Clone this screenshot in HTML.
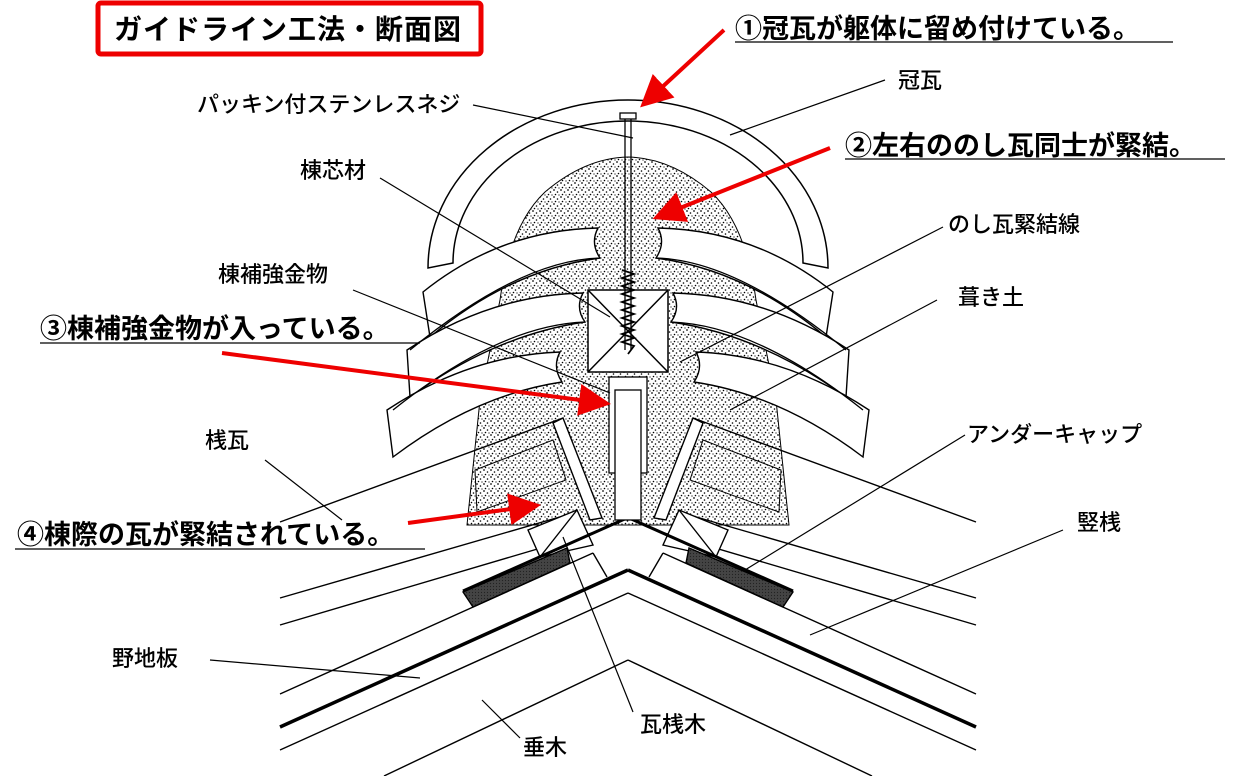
<!DOCTYPE html>
<html><head><meta charset="utf-8"><style>
html,body{margin:0;padding:0;background:#fff;}
svg{display:block;}
text{font-family:"Liberation Sans","Noto Sans CJK JP",sans-serif;fill:#000;}
.b{font-weight:bold;font-size:27px;}
.l{font-size:22px;font-weight:500;}
</style></head><body>
<svg width="1244" height="776" viewBox="0 0 1244 776" xmlns="http://www.w3.org/2000/svg">
<defs>
<pattern id="st" width="7" height="7" patternUnits="userSpaceOnUse">
<rect width="7" height="7" fill="#fff"/>
<circle cx="1" cy="1" r="0.85" fill="#000"/><circle cx="4.5" cy="3" r="0.8" fill="#000"/>
<circle cx="2.5" cy="5.5" r="0.8" fill="#000"/><circle cx="6" cy="6" r="0.6" fill="#000"/>
</pattern>
<pattern id="hx" width="3" height="3" patternUnits="userSpaceOnUse">
<rect width="3" height="3" fill="#444"/><circle cx="1.5" cy="1.5" r="0.6" fill="#222"/>
</pattern>
<marker id="ar" markerWidth="8" markerHeight="8" refX="6" refY="4" orient="auto" markerUnits="strokeWidth">
<path d="M0,0 L8,4 L0,8 z" fill="#e00"/></marker>
<g id="half" fill="#fff" stroke="#000" stroke-width="1.4">
<line x1="628" y1="660" x2="384" y2="776"/>
<line x1="628" y1="593" x2="280" y2="750"/>
<line x1="628" y1="570" x2="280" y2="727" stroke-width="3.5"/>
<line x1="593" y1="553" x2="280" y2="694"/>
<path d="M593,553 L607,577" fill="none"/>
<line x1="280" y1="625" x2="595" y2="532"/>
<line x1="280" y1="598" x2="577" y2="512"/>
<line x1="280" y1="522" x2="563" y2="418"/>
<path d="M528,530 L577,510 L593,545 L540,557 Z"/>
<line x1="540" y1="557" x2="577" y2="510"/>
<path d="M463,592 L567,548 L570,563 L473,607 Z" fill="url(#hx)"/>
<line x1="627" y1="518" x2="463" y2="591" stroke-width="3"/>
</g>
</defs>

<path d="M467,525 L480,400 L500,300 Q510,225 545,192 Q585,158 628,157 Q671,158 711,192 Q746,225 756,300 L776,400 L789,525 Z" fill="url(#st)" stroke="#000" stroke-width="1"/>

<use href="#half"/>
<use href="#half" transform="translate(1256,0) scale(-1,1)"/>

<g fill="#fff" stroke="#000" stroke-width="1.4">
<path d="M563,418 L602,518 L590,520 L553,423 Z"/>
<path d="M475,470 L553,440 L566,480 L477,512 Z" fill="url(#st)" stroke-width="1"/>
<path d="M693,418 L654,518 L666,520 L703,423 Z"/>
<path d="M781,470 L703,440 L690,480 L779,512 Z" fill="url(#st)" stroke-width="1"/>
</g>

<g fill="#fff" stroke="#000" stroke-width="1.3">
<rect x="609" y="377" width="38" height="96"/>
<rect x="615" y="390" width="26" height="130"/>
</g>

<g fill="#fff" stroke="#000" stroke-width="1.4">
<path d="M598,228 Q500,230 423,292 L430,337 Q510,270 600,258 Q590,243 598,228 Z"/>
<path d="M583,293 Q490,295 407,350 L410,397 Q495,335 585,322 Q575,308 583,293 Z"/>
<path d="M560,352 Q470,355 387,410 L393,457 Q475,395 562,382 Q552,367 560,352 Z"/>
<path d="M658,228 Q756,230 833,292 L826,337 Q746,270 656,258 Q666,243 658,228 Z"/>
<path d="M673,293 Q766,295 849,350 L846,397 Q761,335 671,322 Q681,308 673,293 Z"/>
<path d="M696,352 Q786,355 869,410 L863,457 Q781,395 694,382 Q704,367 696,352 Z"/>
</g>
<g fill="none" stroke="#000" stroke-width="1.3">
<path d="M600,258 Q520,260 410,350"/>
<path d="M656,258 Q736,260 846,350"/>
<path d="M585,322 Q500,325 393,410"/>
<path d="M671,322 Q756,325 863,410"/>
</g>

<path d="M428,268 A200,168 0 0 1 828,268 L803,263 A175,142 0 0 0 453,263 Z" fill="#fff" stroke="#000" stroke-width="1.5"/>

<g fill="#fff" stroke="#000" stroke-width="1.5">
<rect x="588" y="290" width="80" height="82"/>
<line x1="588" y1="290" x2="668" y2="372"/><line x1="668" y1="290" x2="588" y2="372"/>
</g>
<g stroke="#000" stroke-width="1.3" fill="#fff">
<rect x="620" y="113" width="16" height="6"/>
<line x1="625" y1="119" x2="625" y2="350"/><line x1="631" y1="119" x2="631" y2="350"/>
<path d="M622,270 l12,4 l-12,4 l12,4 l-12,4 l12,4 l-12,4 l12,4 l-12,4 l12,4 l-12,4 l12,4 l-12,4 l12,4 l-12,4 l12,4 l-12,4 l12,4 l-12,4 l12,4 l-6,8" fill="none" stroke-width="1.8"/>
</g>

<g stroke="#000" stroke-width="1.2" fill="none">
<line x1="885" y1="80" x2="730" y2="135"/>
<line x1="473" y1="105" x2="633" y2="138"/>
<line x1="380" y1="178" x2="610" y2="317"/>
<line x1="943" y1="227" x2="680" y2="362"/>
<line x1="353" y1="290" x2="610" y2="393"/>
<line x1="937" y1="300" x2="730" y2="410"/>
<line x1="265" y1="460" x2="342" y2="520"/>
<line x1="965" y1="435" x2="745" y2="570"/>
<line x1="1063" y1="530" x2="810" y2="635"/>
<line x1="210" y1="660" x2="420" y2="678"/>
<line x1="520" y1="738" x2="482" y2="700"/>
<line x1="633" y1="712" x2="563" y2="537"/>
</g>

<g stroke="#e00" stroke-width="4" fill="none">
<line x1="724" y1="30" x2="646" y2="102" marker-end="url(#ar)"/>
<line x1="830" y1="148" x2="660" y2="216" marker-end="url(#ar)"/>
<line x1="222" y1="353" x2="603" y2="403" marker-end="url(#ar)"/>
<line x1="408" y1="523" x2="533" y2="506" marker-end="url(#ar)"/>
</g>

<rect x="98" y="3" width="383" height="51" rx="3" fill="none" stroke="#e00" stroke-width="5"/>
<text class="b" x="114" y="39" style="font-size:28px;letter-spacing:1px">ガイドライン工法・断面図</text>

<text class="b" x="735" y="38">①冠瓦が躯体に留め付けている。</text>
<line x1="735" y1="42" x2="1173" y2="42" stroke="#000" stroke-width="1.3"/>
<text class="b" x="845" y="155">②左右ののし瓦同士が緊結。</text>
<line x1="845" y1="159" x2="1225" y2="159" stroke="#000" stroke-width="1.3"/>
<text class="b" x="40" y="338">③棟補強金物が入っている。</text>
<line x1="40" y1="343" x2="420" y2="343" stroke="#000" stroke-width="1.3"/>
<text class="b" x="17" y="544">④棟際の瓦が緊結されている。</text>
<line x1="15" y1="549" x2="425" y2="549" stroke="#000" stroke-width="1.3"/>

<text class="l" x="898" y="88">冠瓦</text>
<text class="l" x="197" y="112">パッキン付ステンレスネジ</text>
<text class="l" x="300" y="178">棟芯材</text>
<text class="l" x="948" y="232">のし瓦緊結線</text>
<text class="l" x="218" y="282">棟補強金物</text>
<text class="l" x="958" y="305">葺き土</text>
<text class="l" x="205" y="448">桟瓦</text>
<text class="l" x="967" y="442">アンダーキャップ</text>
<text class="l" x="1077" y="530">竪桟</text>
<text class="l" x="112" y="666">野地板</text>
<text class="l" x="640" y="732">瓦桟木</text>
<text class="l" x="523" y="755">垂木</text>
</svg>
</body></html>
